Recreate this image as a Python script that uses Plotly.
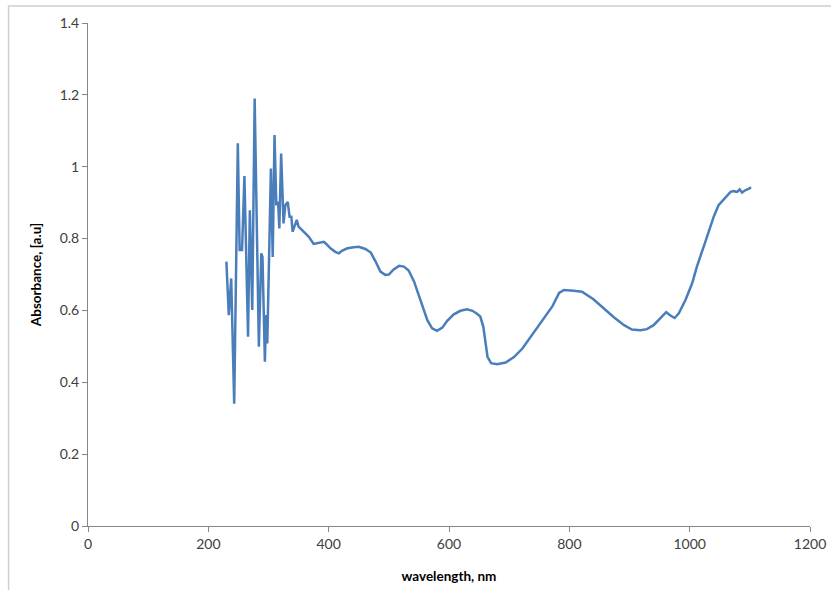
import plotly.graph_objects as go

wavelength = [230, 234, 238, 243, 249, 252, 256, 260, 266, 269, 273, 277, 284, 288, 290,
              294, 296, 298, 304, 307, 310, 313, 316, 318, 321, 325, 328, 332, 335, 338,
              340, 343, 347, 350, 358, 367, 375, 384, 392, 396, 403, 411, 417, 422, 431,
              442, 450, 461, 470, 478, 486, 494, 500, 508, 517, 525, 533, 542, 553, 564,
              572, 580, 589, 597, 608, 619, 630, 639, 647, 652, 657, 661, 664, 670, 680,
              694, 708, 722, 738, 755, 772, 783, 791, 807, 821, 840, 857, 874, 891, 904,
              918, 929, 940, 951, 961, 968, 975, 982, 993, 1004, 1012, 1026, 1040, 1048,
              1056, 1062, 1068, 1073, 1079, 1083, 1087, 1093, 1098, 1102]
absorbance = [0.736, 0.587, 0.689, 0.340, 1.065, 0.768, 0.768, 0.974, 0.527, 0.879, 0.601,
              1.190, 0.499, 0.759, 0.749, 0.457, 0.587, 0.508, 0.995, 0.749, 1.088, 0.893,
              0.902, 0.828, 1.037, 0.842, 0.893, 0.902, 0.861, 0.861, 0.819, 0.833, 0.852,
              0.833, 0.819, 0.805, 0.785, 0.789, 0.791, 0.785, 0.773, 0.763, 0.759, 0.766,
              0.773, 0.776, 0.777, 0.771, 0.761, 0.736, 0.708, 0.699, 0.700, 0.714, 0.724,
              0.722, 0.711, 0.680, 0.629, 0.573, 0.550, 0.543, 0.552, 0.571, 0.589, 0.599,
              0.603, 0.599, 0.590, 0.583, 0.555, 0.508, 0.471, 0.453, 0.450, 0.455, 0.470,
              0.494, 0.532, 0.573, 0.612, 0.649, 0.657, 0.655, 0.652, 0.631, 0.606, 0.581,
              0.559, 0.547, 0.545, 0.548, 0.559, 0.578, 0.595, 0.586, 0.579, 0.592, 0.629,
              0.675, 0.722, 0.791, 0.861, 0.893, 0.909, 0.921, 0.930, 0.932, 0.930, 0.937,
              0.928, 0.935, 0.938, 0.943]

x_title = "wavelength, nm"
y_title = "Absorbance, [a.u]"

FONT = "Lato, 'Open Sans', 'DejaVu Sans', sans-serif"
GRAY = "#868686"

fig = go.Figure()
fig.add_trace(go.Scatter(x=wavelength, y=absorbance, mode="lines",
                         line=dict(color="#4a7ebb", width=2.5), showlegend=False))

fig.update_layout(
    width=831, height=590, autosize=False,
    margin=dict(l=88, r=21, t=23, b=64, autoexpand=False),
    paper_bgcolor="white", plot_bgcolor="white",
    font=dict(family=FONT, size=14, color="#404040"),
    xaxis=dict(range=[0, 1200], tickmode="linear", tick0=0, dtick=200,
               showgrid=False, zeroline=False, showline=True, linecolor=GRAY, linewidth=1,
               ticks="outside", ticklen=5, tickcolor=GRAY, automargin=False,
               tickfont=dict(family=FONT, size=14, color="#404040"),
               title=dict(text="<b>" + x_title + "</b>", standoff=20,
                          font=dict(family=FONT, size=13.5, color="#000000"))),
    yaxis=dict(range=[0, 1.4], tickmode="linear", tick0=0, dtick=0.2,
               showgrid=False, zeroline=False, showline=True, linecolor=GRAY, linewidth=1,
               ticks="outside", ticklen=5, tickcolor=GRAY, automargin=False,
               tickfont=dict(family=FONT, size=14, color="#404040"),
               title=dict(text="<b>" + y_title + "</b>", standoff=14,
                          font=dict(family=FONT, size=13.5, color="#000000"))),
    shapes=[dict(type="rect", xref="paper", yref="paper",
                 x0=-0.110, x1=1.2, y0=-0.3, y1=1.0338,
                 line=dict(color="#d0d0d0", width=1.5), fillcolor="rgba(0,0,0,0)",
                 layer="below")],
)

fig.write_html("out.html", config={"displayModeBar": False},
               post_script="document.body.style.margin='0';document.body.style.padding='0';")
